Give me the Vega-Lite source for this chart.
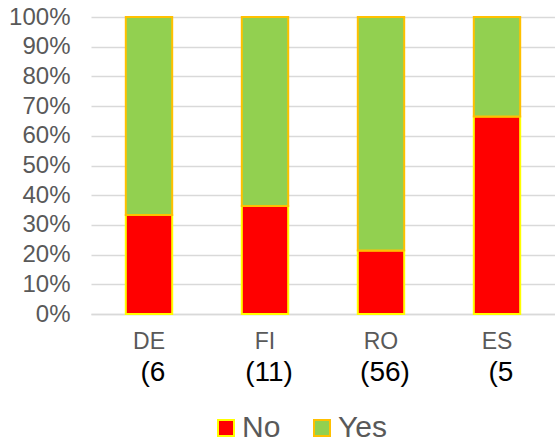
{
  "$schema": "https://vega.github.io/schema/vega-lite/v6.json",
  "width": 464,
  "height": 297,
  "autosize": {"type": "none"},
  "padding": {"left": 91, "top": 17, "right": 0, "bottom": 129},
  "background": "white",
  "config": {
    "font": "Liberation Sans",
    "view": {"stroke": null},
    "axisX": {
      "title": null,
      "labelAngle": 0,
      "labelFontSize": 23,
      "labelColor": "#595959",
      "labelPadding": 16,
      "ticks": false,
      "domainColor": "#D9D9D9",
      "domainWidth": 1.5
    },
    "axisY": {
      "title": null,
      "labelOverlap": false,
      "labelFontSize": 24,
      "labelColor": "#595959",
      "labelPadding": 21,
      "ticks": false,
      "domain": false,
      "gridColor": "#D9D9D9",
      "gridWidth": 1.5
    }
  },
  "layer": [
    {
      "data": {
        "values": [
          {"country": "DE", "answer": "No", "share": 33.3},
          {"country": "DE", "answer": "Yes", "share": 66.7},
          {"country": "FI", "answer": "No", "share": 36.4},
          {"country": "FI", "answer": "Yes", "share": 63.6},
          {"country": "RO", "answer": "No", "share": 21.4},
          {"country": "RO", "answer": "Yes", "share": 78.6},
          {"country": "ES", "answer": "No", "share": 66.5},
          {"country": "ES", "answer": "Yes", "share": 33.5}
        ]
      },
      "mark": {"type": "bar", "strokeWidth": 2},
      "encoding": {
        "x": {
          "field": "country",
          "type": "nominal",
          "sort": ["DE", "FI", "RO", "ES"],
          "scale": {"paddingInner": 0.6, "paddingOuter": 0.3}
        },
        "y": {
          "field": "share",
          "type": "quantitative",
          "stack": "normalize",
          "scale": {"domain": [0, 1]},
          "axis": {
            "format": ".0%",
            "values": [0, 0.1, 0.2, 0.3, 0.4, 0.5, 0.6, 0.7, 0.8, 0.9, 1]
          }
        },
        "order": {"field": "answer", "sort": "ascending"},
        "fill": {
          "field": "answer",
          "type": "nominal",
          "scale": {"domain": ["No", "Yes"], "range": ["#FF0000", "#92D050"]},
          "legend": {
            "title": null,
            "orient": "none",
            "direction": "horizontal",
            "legendX": 120,
            "legendY": 396,
            "padding": 0,
            "symbolType": "square",
            "symbolSize": 256,
            "symbolStrokeWidth": 2,
            "labelFontSize": 30,
            "labelColor": "#595959",
            "labelOffset": 1,
            "columnPadding": 26
          }
        },
        "stroke": {
          "field": "answer",
          "type": "nominal",
          "scale": {"domain": ["No", "Yes"], "range": ["#FFFF00", "#FFC000"]},
          "legend": null
        }
      }
    },
    {
      "data": {
        "values": [
          {"country": "DE", "count": "(6"},
          {"country": "FI", "count": "(11)"},
          {"country": "RO", "count": "(56)"},
          {"country": "ES", "count": "(5"}
        ]
      },
      "mark": {"type": "text", "fontSize": 28, "color": "#000000", "baseline": "middle", "dy": 59, "dx": 4},
      "encoding": {
        "x": {"field": "country", "type": "nominal", "sort": ["DE", "FI", "RO", "ES"]},
        "y": {
          "datum": 0,
          "axis": {
            "format": ".0%",
            "values": [0, 0.1, 0.2, 0.3, 0.4, 0.5, 0.6, 0.7, 0.8, 0.9, 1]
          }
        },
        "text": {"field": "count"}
      }
    }
  ]
}
